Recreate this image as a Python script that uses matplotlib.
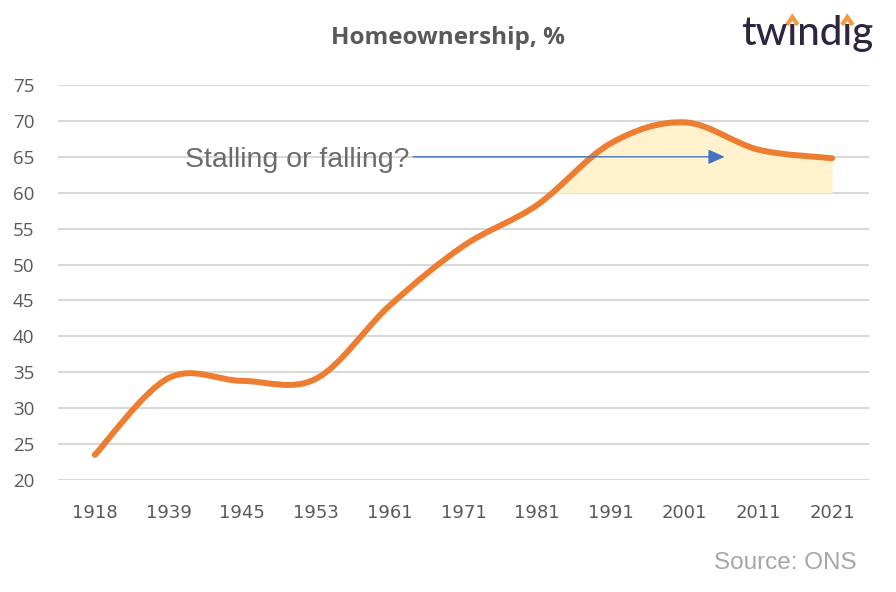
import numpy as np
import matplotlib
matplotlib.use("Agg")
import matplotlib.pyplot as plt
from matplotlib.path import Path
from matplotlib.patches import PathPatch
from matplotlib.lines import Line2D

# homeownership data (ONS)
years = ["1918", "1939", "1945", "1953", "1961", "1971", "1981", "1991", "2001", "2011", "2021"]
owned = [23.5, 34.2, 33.8, 34.1, 44.3, 52.6, 58.3, 66.9, 69.8, 66.0, 64.8]
yticks = [20, 25, 30, 35, 40, 45, 50, 55, 60, 65, 70, 75]

ORANGE = "#ED7D31"
GREY = "#595959"

fig = plt.figure(figsize=(8.96, 5.92), dpi=100)
ax = fig.add_axes([58/896, (592-480)/592, (869-58)/896, (480-85)/592])

x = np.arange(len(years))
y = np.array(owned)

# excel-style smoothed line: bezier segments with catmull-rom control points
verts = [(x[0], y[0])]
codes = [Path.MOVETO]
n = len(x)
for i in range(n - 1):
    p0 = np.array([x[max(i-1, 0)], y[max(i-1, 0)]])
    p1 = np.array([x[i], y[i]])
    p2 = np.array([x[i+1], y[i+1]])
    p3 = np.array([x[min(i+2, n-1)], y[min(i+2, n-1)]])
    c1 = p1 + (p2 - p0) / 6
    c2 = p2 - (p3 - p1) / 6
    verts += [tuple(c1), tuple(c2), tuple(p2)]
    codes += [Path.CURVE4] * 3
path = Path(verts, codes)

# sample the curve for the shaded area
pts = []
for i in range(n - 1):
    b = np.array(verts[3*i:3*i+4])
    t = np.linspace(0, 1, 60)[:, None]
    seg = ((1-t)**3)*b[0] + 3*((1-t)**2)*t*b[1] + 3*(1-t)*t**2*b[2] + t**3*b[3]
    pts.append(seg)
pts = np.vstack(pts)
ax.fill_between(pts[:, 0], 60, pts[:, 1], where=pts[:, 1] >= 60,
                color="#FFF2CC", lw=0, zorder=1)

ax.add_patch(PathPatch(path, fill=False, edgecolor=ORANGE, lw=4.3,
                       capstyle="round", joinstyle="round", zorder=3))

for v in yticks:
    ax.axhline(v, color="#D9D9D9", lw=1.5, zorder=0)

ax.set_xlim(-0.5, 10.5)
ax.set_ylim(20, 75)
ax.set_yticks(yticks)
ax.set_xticks(x)
ax.set_xticklabels(years)
for s in ax.spines.values():
    s.set_visible(False)
ax.tick_params(length=0)
ax.tick_params(axis="y", colors=GREY, labelsize=13.5, pad=17)
ax.tick_params(axis="x", colors=GREY, labelsize=13, pad=17)
for lab in ax.get_xticklabels():
    lab.set_family(["Liberation Sans Narrow", "DejaVu Sans"])
for lab in ax.get_yticklabels():
    lab.set_family(["Open Sans", "DejaVu Sans"])

# annotation
ax.annotate("", xy=(8.58, 65), xytext=(4.28, 65),
            arrowprops=dict(arrowstyle="-|>,head_length=1.0,head_width=0.45",
                            color="#4472C4", lw=1), zorder=4)
ax.text(1.22, 64.6, "Stalling or falling?", fontsize=20.5, color="#6E6A6A",
        va="center", ha="left", family=["Liberation Sans", "DejaVu Sans"])

fig.text(448/896, 1 - 38/592, "Homeownership, %", ha="center", va="center",
         fontsize=17.5, fontweight="bold", color=GREY, family=["Open Sans", "DejaVu Sans"])
fig.text(857/896, 1 - 563/592, "Source: ONS", ha="right", va="center",
         fontsize=17.5, color="#A6A6A6", family=["Liberation Sans", "DejaVu Sans"])

# twindig logo
LOGO_FS = 29
logo = fig.text(741/896, 1 - 34/592, "tw\u0131nd\u0131g", ha="left", va="center",
                fontsize=LOGO_FS, fontweight="medium", color="#2E2640",
                family=["Lato", "DejaVu Sans"])
fig.canvas.draw()
r = fig.canvas.get_renderer()
x0 = logo.get_window_extent(r).x0
for pre in ["tw", "tw\u0131nd"]:
    t = fig.text(0, 0, pre, fontsize=LOGO_FS, fontweight="medium", family=["Lato", "DejaVu Sans"])
    w1 = t.get_window_extent(r).width
    t.set_text(pre + "\u0131")
    w2 = t.get_window_extent(r).width
    t.remove()
    cx = (x0 + (w1 + w2) / 2) / 896
    fig.add_artist(Line2D([cx - 0.006, cx, cx + 0.006], [1 - 25/592, 1 - 17/592, 1 - 25/592],
                          transform=fig.transFigure, color="#F39A3E", lw=3,
                          solid_capstyle="butt", solid_joinstyle="miter"))

fig.savefig("out.png", dpi=100)
